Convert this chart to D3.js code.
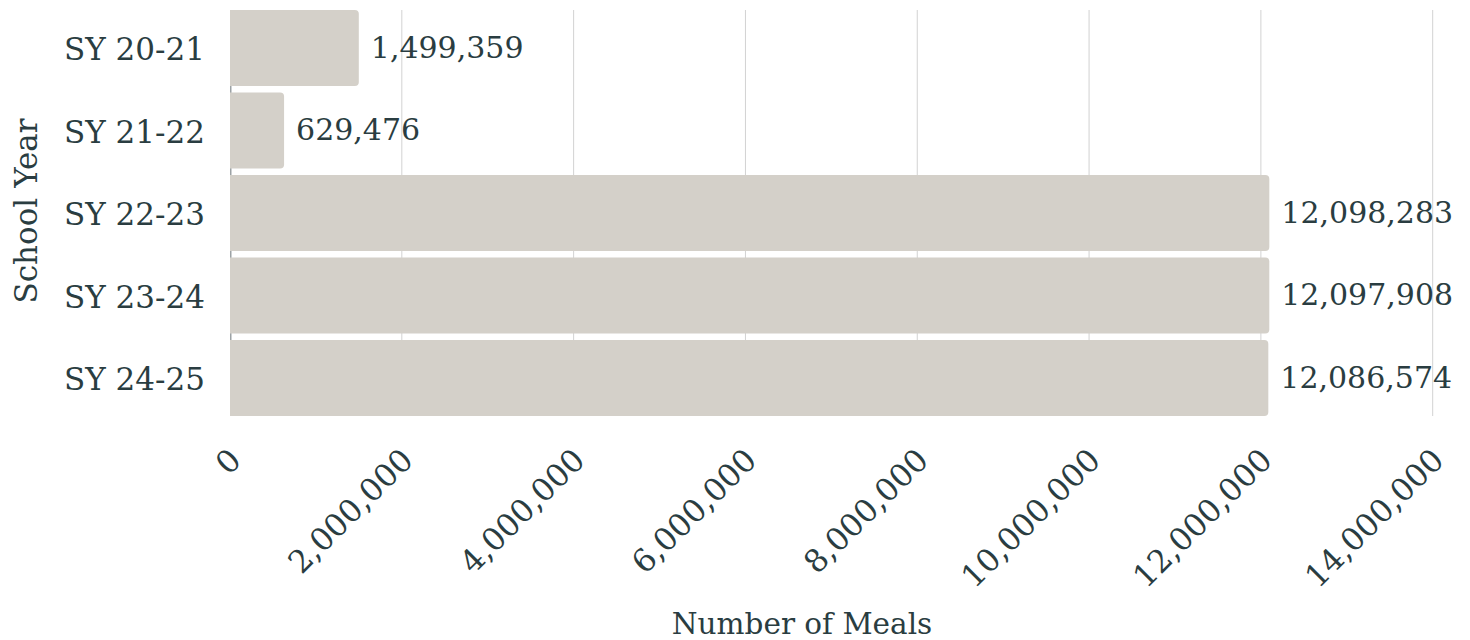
<!DOCTYPE html>
<html>
<head>
<meta charset="utf-8">
<script src="https://cdn.jsdelivr.net/npm/d3@7"></script>
<style>
  body { margin: 0; background: #fff; }
  text { font-family: "DejaVu Serif", "Liberation Serif", serif; fill: #2a3d41; }
</style>
</head>
<body>
<div id="chart"></div>
<script>
// data
const years = ["SY 20-21", "SY 21-22", "SY 22-23", "SY 23-24", "SY 24-25"]
const meals = [1499359, 629476, 12098283, 12097908, 12086574]
const xTicks = [0, 2000000, 4000000, 6000000, 8000000, 10000000, 12000000, 14000000]

const W = 1470, H = 640
const plotL = 230, plotR = 1432.7, plotT = 10, plotB = 416

const svg = d3.select("#chart")
  .append("svg")
    .attr("width", W)
    .attr("height", H)

const x = d3.scaleLinear()
    .domain([0, 14000000])
    .range([plotL, plotR])

const y = d3.scaleBand()
    .domain(years)
    .range([plotT, plotB])
    .paddingInner(0.08)
    .paddingOuter(0)

const fmt = d3.format(",")

// vertical grid lines
svg.selectAll("gridLines")
    .data(xTicks.slice(1))
    .enter()
    .append("line")
    .attr("x1", d => x(d))
    .attr("x2", d => x(d))
    .attr("y1", plotT)
    .attr("y2", plotB)
    .attr("stroke", "#d2d2d2")
    .attr("stroke-width", 1)

// y axis line (sits under the bars)
svg.append("line")
    .attr("x1", plotL + 0.75).attr("x2", plotL + 0.75)
    .attr("y1", plotT).attr("y2", plotB)
    .attr("stroke", "#9ca2a5")
    .attr("stroke-width", 1.5)

// bars, rounded on the right side only
const r = 4
svg.selectAll("bars")
    .data(years)
    .enter()
    .append("path")
    .attr("d", function (d, i) {
      const x0 = x(0), x1 = x(meals[i]), y0 = y(d), h = y.bandwidth()
      return `M${x0},${y0} H${x1 - r} Q${x1},${y0} ${x1},${y0 + r} V${y0 + h - r} Q${x1},${y0 + h} ${x1 - r},${y0 + h} H${x0} Z`
    })
    .style("fill", "#d4d0c9")

// value labels
svg.selectAll("valueLabels")
    .data(years)
    .enter()
    .append("text")
    .attr("x", (d, i) => x(meals[i]) + 12)
    .attr("y", d => y(d) + y.bandwidth() / 2)
    .attr("dy", "0.33em")
    .style("font-size", "30px")
    .text((d, i) => fmt(meals[i]))

// category labels
svg.selectAll("yLabels")
    .data(years)
    .enter()
    .append("text")
    .attr("x", plotL - 25)
    .attr("y", d => y(d) + y.bandwidth() / 2)
    .attr("dy", "0.4em")
    .attr("text-anchor", "end")
    .style("font-size", "31px")
    .text(d => d)

// x tick labels, rotated
svg.selectAll("xLabels")
    .data(xTicks)
    .enter()
    .append("text")
    .attr("transform", d => `translate(${x(d) + 13},462) rotate(-45)`)
    .attr("text-anchor", "end")
    .style("font-size", "31.5px")
    .text(d => fmt(d))

// axis titles
svg.append("text")
    .attr("x", 802)
    .attr("y", 634)
    .attr("text-anchor", "middle")
    .style("font-size", "29.5px")
    .text("Number of Meals")

svg.append("text")
    .attr("transform", "translate(37,211) rotate(-90)")
    .attr("text-anchor", "middle")
    .style("font-size", "31px")
    .text("School Year")
</script>
</body>
</html>
